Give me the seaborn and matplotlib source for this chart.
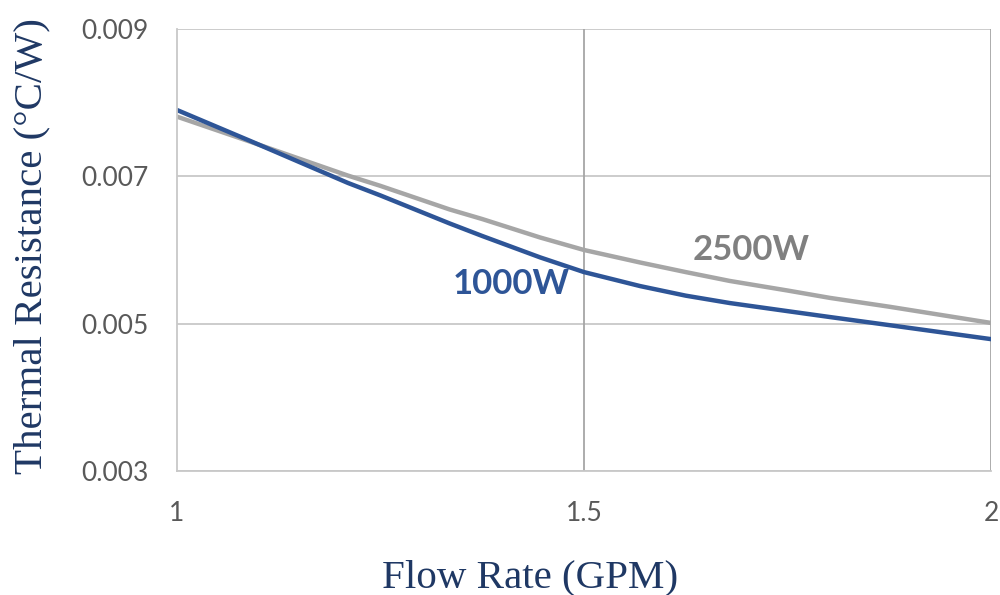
import pandas as pd
import numpy as np
import seaborn as sns
import matplotlib.pyplot as plt

# values
flow = [1.0, 1.09, 1.21, 1.25, 1.335, 1.375, 1.446, 1.5, 1.569, 1.625, 1.679, 1.75, 1.802, 1.875, 2.0]
res_1000w = [0.00790, 0.00748, 0.00691, 0.00674, 0.00636, 0.00619, 0.00590, 0.00570,
             0.00551, 0.00538, 0.00528, 0.00517, 0.00509, 0.00498, 0.00479]
res_2500w = [0.00781, 0.00747, 0.00701, 0.00687, 0.00655, 0.00642, 0.00617, 0.00600,
             0.00583, 0.00570, 0.00558, 0.00545, 0.00535, 0.00523, 0.00501]
series = ['1000W', '2500W']
y_ticks = [0.003, 0.005, 0.007, 0.009]
x_ticks = [1, 1.5, 2]
x_tick_labels = ['1', '1.5', '2']

blue = '#2e5597'
grey = '#a6a6a6'
navy = '#1f3864'
tick_col = '#595959'
grid_col = '#c8c8c8'

data = pd.DataFrame({
    'flow': flow * 2,
    'res': res_1000w + res_2500w,
    'series': [series[0]] * len(flow) + [series[1]] * len(flow),
})

sns.set_theme(style='white')
plt.rcParams['font.family'] = ['Lato', 'DejaVu Sans']

fig = plt.figure(figsize=(10, 5.95), dpi=100)
ax = fig.add_axes([0.177, 0.2084, 0.814, 0.7429])

# grid behind the curves
for yv in y_ticks:
    ax.axhline(yv, color=grid_col, lw=1.3, zorder=0)
ax.axvline(1.5, color='#a6a6a6', lw=1.3, zorder=0)
ax.axvline(2.0, color='#a6a6a6', lw=1.3, zorder=0)

sns.lineplot(data=data, x='flow', y='res', hue='series', hue_order=series[::-1],
             palette={'1000W': blue, '2500W': grey}, linewidth=3.2, legend=False, ax=ax)

ax.set_xlim(1, 2)
ax.set_ylim(0.003, 0.009)
ax.set_xticks(x_ticks)
ax.set_xticklabels(x_tick_labels)
ax.set_yticks(y_ticks)
ax.set_yticklabels(['%.3f' % v for v in y_ticks])
ax.tick_params(axis='both', which='both', direction='out', colors=grid_col,
               labelcolor=tick_col, labelsize=19, length=8.5, width=1.3)
ax.tick_params(axis='x', pad=13)
ax.tick_params(axis='y', pad=12)

for side in ['top', 'right']:
    ax.spines[side].set_visible(False)
for side in ['left', 'bottom']:
    ax.spines[side].set_color(grid_col)
    ax.spines[side].set_linewidth(1.3)

ax.set_xlabel('Flow Rate (GPM)', family='Liberation Serif', fontsize=29.5, color=navy)
ax.set_ylabel('Thermal Resistance (°C/W)', family='Liberation Serif', fontsize=29.5, color=navy)
ax.xaxis.set_label_coords(0.4337, -0.200)
ax.yaxis.set_label_coords(-0.156, 0.509)

ax.text(1.41, 0.00554, '1000W', color=blue, fontsize=25, fontweight='bold', ha='center', va='center')
ax.text(1.705, 0.00600, '2500W', color='#808080', fontsize=25, fontweight='bold', ha='center', va='center')

fig.savefig('out.png', dpi=100)
